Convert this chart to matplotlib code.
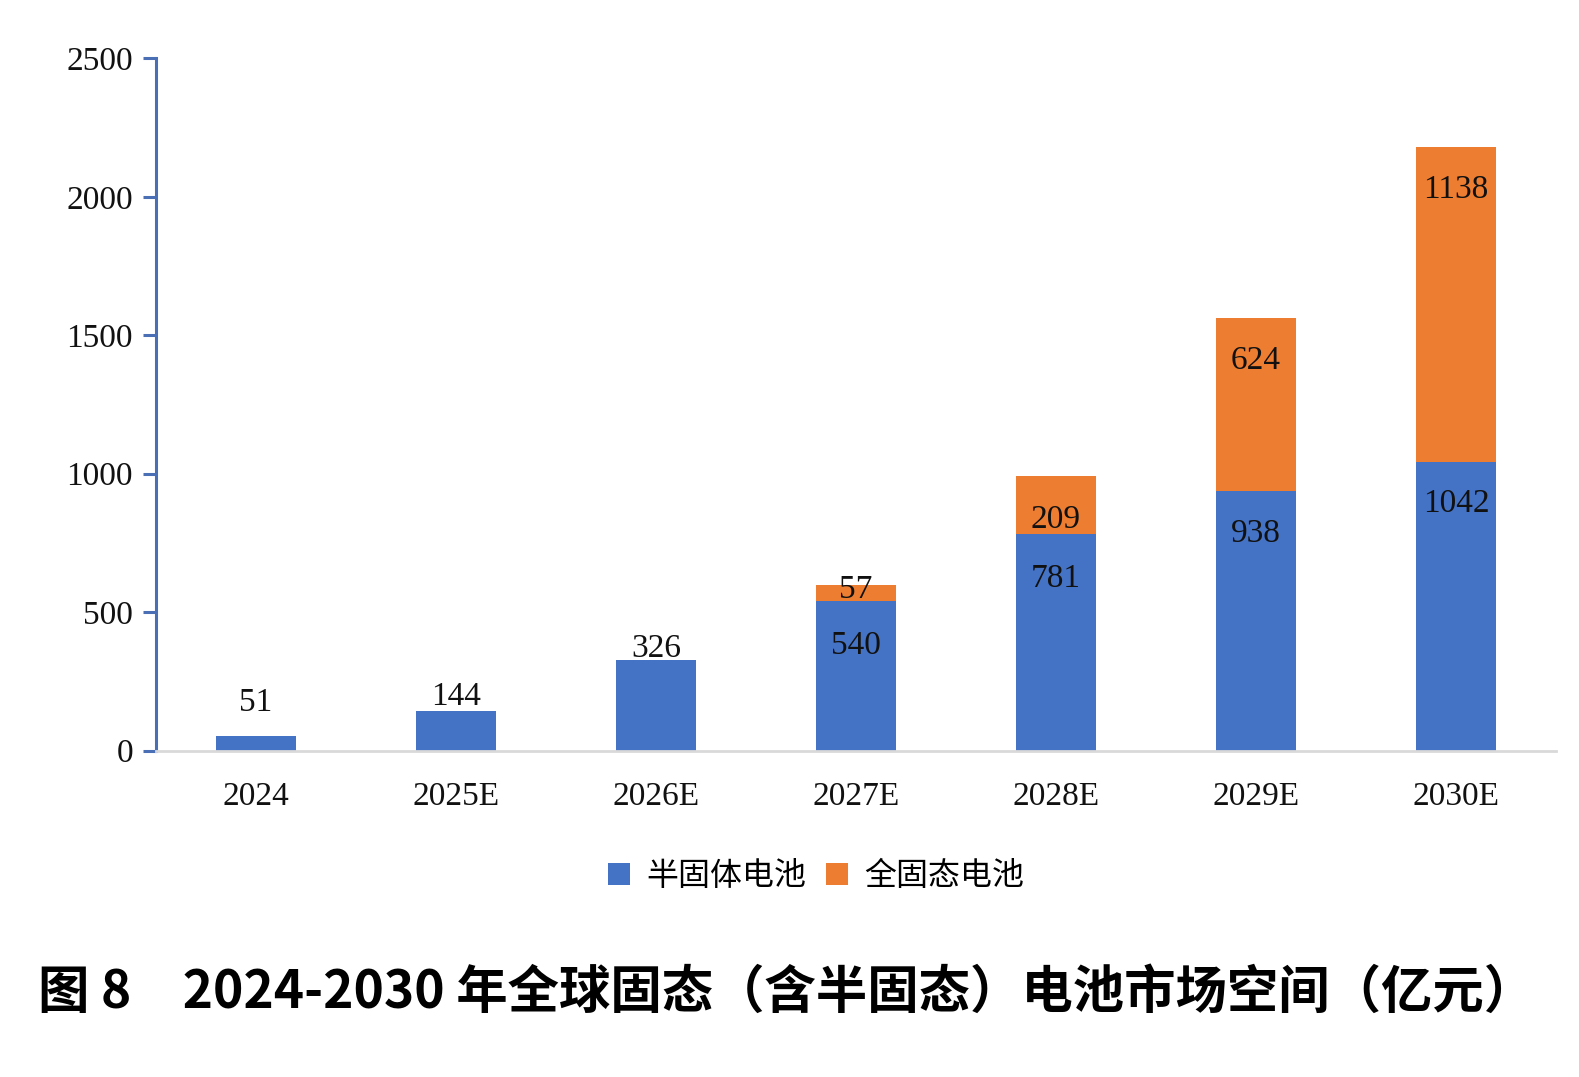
import matplotlib
matplotlib.use("Agg")
import matplotlib.pyplot as plt
from matplotlib.patches import Patch

plt.rcParams['font.family'] = ['Liberation Serif', 'Noto Sans CJK SC', 'DejaVu Sans']

categories = ["2024", "2025E", "2026E", "2027E", "2028E", "2029E", "2030E"]
semi_solid = [51, 144, 326, 540, 781, 938, 1042]
all_solid = [0, 0, 0, 57, 209, 624, 1138]
series_names = ["半固体电池", "全固态电池"]
y_ticks = [0, 500, 1000, 1500, 2000, 2500]
title = "图 8　2024-2030 年全球固态（含半固态）电池市场空间（亿元）"

# label offsets from segment top, in points (style only)
semi_label_off = [24, 10, 8, -32, -32, -31, -30]
full_label_off = [None, None, None, -3, -31, -31, -31]

blue = "#4472C4"
orange = "#ED7D31"

fig = plt.figure(figsize=(15.79, 10.77), dpi=100)
ax = fig.add_axes([156/1579, 1-750.6/1077, 1400/1579, (750.6-58.4)/1077])

x = list(range(len(categories)))
w = 0.4
ax.bar(x, semi_solid, width=w, color=blue, zorder=2)
ax.bar(x, all_solid, width=w, bottom=semi_solid, color=orange, zorder=2)

ax.set_xlim(-0.5, len(categories) - 0.5)
ax.set_ylim(0, 2500)
ax.set_yticks(y_ticks)
ax.set_yticklabels([str(t) for t in y_ticks])
ax.set_xticks(x)
ax.set_xticklabels(categories)

for s in ["top", "right"]:
    ax.spines[s].set_visible(False)
ax.spines["left"].set_color("#4A6FB5")
ax.spines["left"].set_linewidth(2.2)
ax.spines["bottom"].set_color("#D9D9D9")
ax.spines["bottom"].set_linewidth(2)
ax.spines["bottom"].set_zorder(3)

ax.tick_params(axis="y", direction="out", length=9.5, width=2.2, color="#4A6FB5",
               labelsize=24, pad=7, labelcolor="#111111")
ax.tick_params(axis="x", length=0, labelsize=24, pad=22, labelcolor="#111111")

for i in x:
    ax.annotate(str(semi_solid[i]), (i, semi_solid[i]), xytext=(0, semi_label_off[i]),
                textcoords="offset points", ha="center", va="center", fontsize=24,
                color="#111111", zorder=4)
    if all_solid[i] > 0:
        top = semi_solid[i] + all_solid[i]
        ax.annotate(str(all_solid[i]), (i, top), xytext=(0, full_label_off[i]),
                    textcoords="offset points", ha="center", va="center", fontsize=24,
                    color="#111111", zorder=4)

handles = [Patch(facecolor=blue, edgecolor="none"), Patch(facecolor=orange, edgecolor="none")]
fig.legend(handles, series_names, loc="center", bbox_to_anchor=(816/1579, 1-876/1077),
           ncol=2, frameon=False, handlelength=0.7, handleheight=0.7, handletextpad=0.5,
           columnspacing=0.6, prop={"family": ["Noto Sans CJK SC"], "size": 23})

fig.text(38/1579, 1-992/1077, title, ha="left", va="center", fontsize=37,
         fontweight="bold", family=["Noto Sans CJK SC", "DejaVu Sans"], color="#000000")

fig.savefig("out.png", dpi=100)
